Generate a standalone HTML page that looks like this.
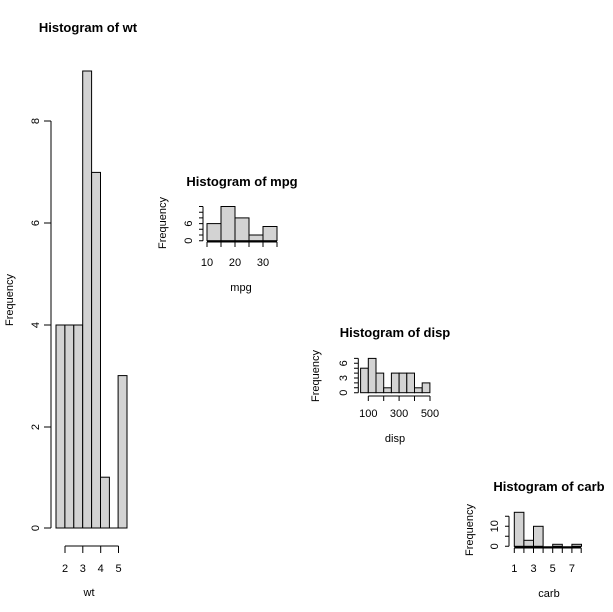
<!DOCTYPE html>
<html><head><meta charset="utf-8"><style>html,body{margin:0;padding:0;background:#fff}svg{display:block}</style></head>
<body>
<svg width="613" height="612" xmlns="http://www.w3.org/2000/svg" font-family="Liberation Sans, Arial, sans-serif" fill="#000">
<rect width="613" height="612" fill="#fff"/>
<g stroke="#000" stroke-width="1" fill="#d3d3d3">
<rect x="56" y="325" width="8.9" height="203"/>
<rect x="64.9" y="325" width="8.9" height="203"/>
<rect x="73.8" y="325" width="8.9" height="203"/>
<rect x="82.7" y="71" width="8.9" height="457"/>
<rect x="91.6" y="172.4" width="8.9" height="355.6"/>
<rect x="100.5" y="477.2" width="8.9" height="50.8"/>
<rect x="118.1" y="375.6" width="8.9" height="152.4"/>
<line x1="109.4" y1="528" x2="118.1" y2="528"/>
<rect x="207" y="223.6" width="14" height="17.1"/>
<rect x="221" y="206.5" width="14" height="34.2"/>
<rect x="235" y="217.9" width="14" height="22.8"/>
<rect x="249" y="235" width="14" height="5.7"/>
<rect x="263" y="226.5" width="14" height="14.2"/>
<rect x="360.6" y="368.2" width="7.7" height="24.5"/>
<rect x="368.3" y="358.4" width="7.7" height="34.3"/>
<rect x="376" y="373.1" width="7.7" height="19.6"/>
<rect x="383.7" y="387.8" width="7.7" height="4.9"/>
<rect x="391.4" y="373.1" width="7.7" height="19.6"/>
<rect x="399.1" y="373.1" width="7.7" height="19.6"/>
<rect x="406.8" y="373.1" width="7.7" height="19.6"/>
<rect x="414.5" y="387.8" width="7.7" height="4.9"/>
<rect x="422.2" y="382.9" width="7.7" height="9.8"/>
<rect x="514.3" y="512.3" width="9.6" height="34"/>
<rect x="523.9" y="540.3" width="9.6" height="6"/>
<rect x="533.5" y="526.3" width="9.6" height="20"/>
<rect x="552.7" y="544.3" width="9.6" height="2"/>
<rect x="571.9" y="544.3" width="9.6" height="2"/>
</g>
<g stroke="#000" stroke-width="1" fill="none">
<path d="M51 121V528M44 121H51M44 223H51M44 325H51M44 427H51M44 528H51"/>
<path d="M65 546H118.5M65 546V553M82.8 546V553M100.7 546V553M118.5 546V553"/>
<path d="M203 206.5V240.7M199 206.5H203M199 212.2H203M199 217.9H203M199 223.6H203M199 229.3H203M199 235H203M199 240.7H203"/>
<path d="M207 242H277M207 242V247M221 242V247M235 242V247M249 242V247M263 242V247M277 242V247"/>
<path d="M358.3 358.4V392.7M354 358.4H358.3M354 363.3H358.3M354 368.2H358.3M354 373.1H358.3M354 378H358.3M354 382.9H358.3M354 387.8H358.3M354 392.7H358.3"/>
<path d="M368.3 396H430M368.3 396V401M383.7 396V401M399.1 396V401M414.5 396V401M430 396V401"/>
<path d="M509 516.3V546.3M505 516.3H509M505 526.3H509M505 536.3H509M505 546.3H509"/>
<path d="M514.3 548H581.2M514.3 548V553M523.9 548V553M533.5 548V553M543.1 548V553M552.7 548V553M562.3 548V553M571.9 548V553M581.2 548V553"/>
<line x1="514.3" y1="547" x2="581.2" y2="547" stroke-width="1.5"/>
<line x1="207" y1="241.5" x2="277" y2="241.5" stroke-width="1.5"/>
</g>
<g font-weight="bold" font-size="13" text-anchor="middle">
<text x="88" y="32">Histogram of wt</text>
<text x="242" y="186">Histogram of mpg</text>
<text x="395" y="337">Histogram of disp</text>
<text x="549" y="491">Histogram of carb</text>
</g>
<g font-size="11" text-anchor="middle">
<text x="65" y="572">2</text><text x="82.8" y="572">3</text><text x="100.7" y="572">4</text><text x="118.5" y="572">5</text>
<text x="89" y="596">wt</text>
<text transform="translate(13,300) rotate(-90)">Frequency</text>
<text transform="translate(39,528) rotate(-90)">0</text>
<text transform="translate(39,427) rotate(-90)">2</text>
<text transform="translate(39,325) rotate(-90)">4</text>
<text transform="translate(39,223) rotate(-90)">6</text>
<text transform="translate(39,121) rotate(-90)">8</text>
<text x="207" y="266">10</text><text x="235" y="266">20</text><text x="263" y="266">30</text>
<text x="241" y="291">mpg</text>
<text transform="translate(166,223) rotate(-90)">Frequency</text>
<text transform="translate(192,240.7) rotate(-90)">0</text>
<text transform="translate(192,223.6) rotate(-90)">6</text>
<text x="368.3" y="417">100</text><text x="399.1" y="417">300</text><text x="430" y="417">500</text>
<text x="395" y="442">disp</text>
<text transform="translate(319,376) rotate(-90)">Frequency</text>
<text transform="translate(347,392.7) rotate(-90)">0</text>
<text transform="translate(347,378) rotate(-90)">3</text>
<text transform="translate(347,363.3) rotate(-90)">6</text>
<text x="514.3" y="572">1</text><text x="533.5" y="572">3</text><text x="552.7" y="572">5</text><text x="571.9" y="572">7</text>
<text x="549" y="597">carb</text>
<text transform="translate(473,530) rotate(-90)">Frequency</text>
<text transform="translate(498,546.3) rotate(-90)">0</text>
<text transform="translate(498,526.3) rotate(-90)">10</text>
</g>
</svg>
</body></html>
